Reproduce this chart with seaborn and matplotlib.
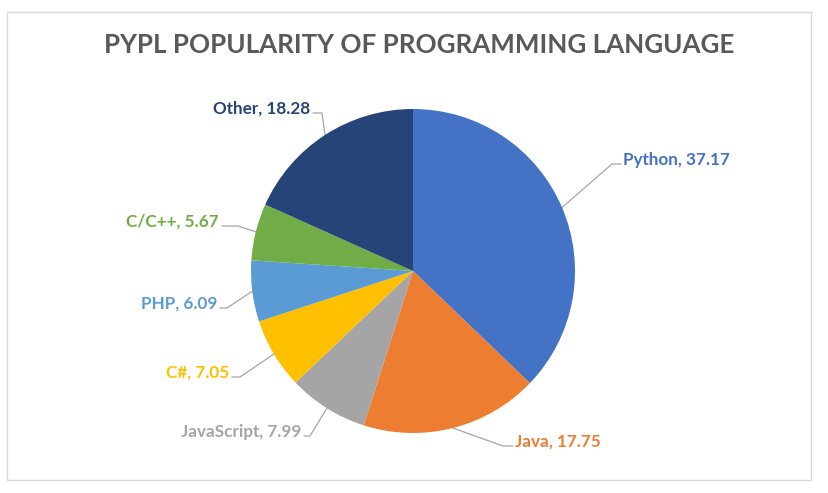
import matplotlib
matplotlib.use("Agg")
import numpy as np
import matplotlib.pyplot as plt
import seaborn as sns
from matplotlib.patches import Rectangle

# Data
languages = ["Python", "Java", "JavaScript", "C#", "PHP", "C/C++", "Other"]
shares = [37.17, 17.75, 7.99, 7.05, 6.09, 5.67, 18.28]
colors = ["#4472C4", "#ED7D31", "#A5A5A5", "#FFC000", "#5B9BD5", "#70AD47", "#264478"]

sns.set_theme(style="white")
plt.rcParams['font.family'] = ['Lato', 'DejaVu Sans']

W, H = 829, 493
fig = plt.figure(figsize=(W / 100, H / 100), dpi=100)

# pie centre and radius in pixels
cx, cy, r = 413, 271, 162
ax = fig.add_axes([(cx - r) / W, (H - cy - r) / H, 2 * r / W, 2 * r / H])

wedges, _ = ax.pie(shares, colors=colors, startangle=90, counterclock=False,
                   radius=1, center=(0, 0), frame=False,
                   wedgeprops=dict(linewidth=0))
ax.set_xlim(-1, 1)
ax.set_ylim(-1, 1)
ax.axis("off")


def px(x, y):
    return (x - cx) / r, (cy - y) / r


# label layout (pixel positions): elbow point, end of the short stub, text side
elbows = [(612, 164), (503, 446), (310, 436), (240, 377), (227, 308), (238, 226), (322, 113)]
stubs = [(621, 164), (513, 446), (304, 436), (232, 377), (220, 308), (222, 226), (313, 113)]
sides = ["left", "left", "right", "right", "right", "right", "right"]

for w, lang, val, col, el, st, ha in zip(wedges, languages, shares, colors, elbows, stubs, sides):
    ang = np.deg2rad((w.theta1 + w.theta2) / 2)
    x0, y0 = np.cos(ang), np.sin(ang)
    ex, ey = px(*el)
    sx, sy = px(*st)
    ax.plot([x0, ex, sx], [y0, ey, sy], color="#A6A6A6", lw=0.9,
            clip_on=False, zorder=0)
    dx = 2 / r if ha == "left" else -3 / r
    ax.text(sx + dx, sy + 4 / r, f"{lang}, {val:.2f}", ha=ha, va="center",
            color=col, fontsize=12.3, fontweight="bold", clip_on=False)

fig.text(419 / W, 1 - 45 / H, "PYPL POPULARITY OF PROGRAMMING LANGUAGE",
         ha="center", va="center", fontsize=18.7, fontweight="bold", color="#595959")

fig.patches.append(Rectangle((7 / W, 1 - 480 / H), 804 / W, 468 / H,
                             transform=fig.transFigure, fill=False,
                             edgecolor="#D9D9D9", lw=1))

fig.savefig("out.png", dpi=100, facecolor="white")
